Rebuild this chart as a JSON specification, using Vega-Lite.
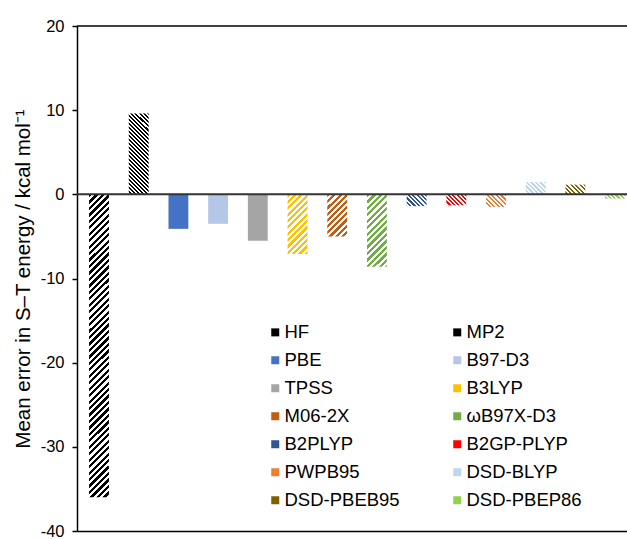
{
"$schema":"https://vega.github.io/schema/vega-lite/v6.json",
"width":550,"height":505,
"autosize":{"type":"none"},
"padding":{"left":77,"top":26,"right":0,"bottom":8},
"background":"white",
"config":{"view":{"stroke":null}},
"data":{"values":[
{"method":"HF","error":-36.0},
{"method":"MP2","error":9.6},
{"method":"PBE","error":-4.1},
{"method":"B97-D3","error":-3.5},
{"method":"TPSS","error":-5.5},
{"method":"B3LYP","error":-7.1},
{"method":"M06-2X","error":-5.0},
{"method":"ωB97X-D3","error":-8.6},
{"method":"B2PLYP","error":-1.4},
{"method":"B2GP-PLYP","error":-1.3},
{"method":"PWPB95","error":-1.5},
{"method":"DSD-BLYP","error":1.45},
{"method":"DSD-PBEB95","error":1.15},
{"method":"DSD-PBEP86","error":-0.5}
]},
"layer":[
{
"encoding":{
"x":{"field":"method","type":"nominal","sort":null,"scale":{"domain":["HF","MP2","PBE","B97-D3","TPSS","B3LYP","M06-2X","ωB97X-D3","B2PLYP","B2GP-PLYP","PWPB95","DSD-BLYP","DSD-PBEB95","DSD-PBEP86"],"paddingInner":0.5,"paddingOuter":0.177,"align":0.86},"axis":{"labels":false,"ticks":false,"title":null,"grid":false,"domainColor":"#000","domainWidth":1.5}},
"y":{"field":"error","type":"quantitative","scale":{"domain":[-40,20],"nice":false},"axis":{"values":[-40,-30,-20,-10,0,10,20],"labelExpr":"'' + datum.value","grid":false,"title":"Mean error in S–T energy / kcal mol⁻¹","titleFont":"Liberation Sans","titleFontSize":20.5,"titleFontWeight":"normal","titleColor":"#000","titlePadding":7,"labelFont":"Liberation Sans","labelFontSize":16.5,"labelColor":"#000","labelPadding":8,"tickSize":5,"tickColor":"#000","tickWidth":1.5,"domainColor":"#000","domainWidth":1.5}}
},
"layer":[
{"transform":[{"filter":{"field":"method","oneOf":["PBE","B97-D3","TPSS"]}}],
"mark":{"type":"bar"},
"encoding":{"color":{"field":"method","type":"nominal","scale":{"domain":["HF","MP2","PBE","B97-D3","TPSS","B3LYP","M06-2X","ωB97X-D3","B2PLYP","B2GP-PLYP","PWPB95","DSD-BLYP","DSD-PBEB95","DSD-PBEP86"],"range":["#000000","#000000","#4472C4","#B4C7E7","#A5A5A5","#FFC000","#C55A11","#70AD47","#2F5597","#FF0000","#ED7D31","#BDD7EE","#7F6000","#92D050"]},
"legend":{"orient":"none","legendX":189,"legendY":297,"columns":2,"direction":"horizontal","title":null,"symbolType":"square","symbolSize":64,"symbolStrokeWidth":0,"labelFont":"Liberation Sans","labelFontSize":18.5,"labelColor":"#000","labelOffset":0,"rowPadding":9,"columnPadding":48,"padding":0,"labelLimit":300}}}},
{"transform":[{"filter":{"field":"method","equal":"HF"}}],
"mark":{"type":"bar","fill":{"gradient":"linear","x1":0,"y1":0,"x2":0.06925,"y2":1.0608,"stops":[
{"offset":0,"color":"#000"},
{"offset":0.01,"color":"#000"},{"offset":0.01,"color":"#fff"},{"offset":0.02,"color":"#fff"},{"offset":0.02,"color":"#000"},
{"offset":0.03,"color":"#000"},{"offset":0.03,"color":"#fff"},{"offset":0.04,"color":"#fff"},{"offset":0.04,"color":"#000"},
{"offset":0.05,"color":"#000"},{"offset":0.05,"color":"#fff"},{"offset":0.06,"color":"#fff"},{"offset":0.06,"color":"#000"},
{"offset":0.07,"color":"#000"},{"offset":0.07,"color":"#fff"},{"offset":0.08,"color":"#fff"},{"offset":0.08,"color":"#000"},
{"offset":0.09,"color":"#000"},{"offset":0.09,"color":"#fff"},{"offset":0.10,"color":"#fff"},{"offset":0.10,"color":"#000"},
{"offset":0.11,"color":"#000"},{"offset":0.11,"color":"#fff"},{"offset":0.12,"color":"#fff"},{"offset":0.12,"color":"#000"},
{"offset":0.13,"color":"#000"},{"offset":0.13,"color":"#fff"},{"offset":0.14,"color":"#fff"},{"offset":0.14,"color":"#000"},
{"offset":0.15,"color":"#000"},{"offset":0.15,"color":"#fff"},{"offset":0.16,"color":"#fff"},{"offset":0.16,"color":"#000"},
{"offset":0.17,"color":"#000"},{"offset":0.17,"color":"#fff"},{"offset":0.18,"color":"#fff"},{"offset":0.18,"color":"#000"},
{"offset":0.19,"color":"#000"},{"offset":0.19,"color":"#fff"},{"offset":0.20,"color":"#fff"},{"offset":0.20,"color":"#000"},
{"offset":0.21,"color":"#000"},{"offset":0.21,"color":"#fff"},{"offset":0.22,"color":"#fff"},{"offset":0.22,"color":"#000"},
{"offset":0.23,"color":"#000"},{"offset":0.23,"color":"#fff"},{"offset":0.24,"color":"#fff"},{"offset":0.24,"color":"#000"},
{"offset":0.25,"color":"#000"},{"offset":0.25,"color":"#fff"},{"offset":0.26,"color":"#fff"},{"offset":0.26,"color":"#000"},
{"offset":0.27,"color":"#000"},{"offset":0.27,"color":"#fff"},{"offset":0.28,"color":"#fff"},{"offset":0.28,"color":"#000"},
{"offset":0.29,"color":"#000"},{"offset":0.29,"color":"#fff"},{"offset":0.30,"color":"#fff"},{"offset":0.30,"color":"#000"},
{"offset":0.31,"color":"#000"},{"offset":0.31,"color":"#fff"},{"offset":0.32,"color":"#fff"},{"offset":0.32,"color":"#000"},
{"offset":0.33,"color":"#000"},{"offset":0.33,"color":"#fff"},{"offset":0.34,"color":"#fff"},{"offset":0.34,"color":"#000"},
{"offset":0.35,"color":"#000"},{"offset":0.35,"color":"#fff"},{"offset":0.36,"color":"#fff"},{"offset":0.36,"color":"#000"},
{"offset":0.37,"color":"#000"},{"offset":0.37,"color":"#fff"},{"offset":0.38,"color":"#fff"},{"offset":0.38,"color":"#000"},
{"offset":0.39,"color":"#000"},{"offset":0.39,"color":"#fff"},{"offset":0.40,"color":"#fff"},{"offset":0.40,"color":"#000"},
{"offset":0.41,"color":"#000"},{"offset":0.41,"color":"#fff"},{"offset":0.42,"color":"#fff"},{"offset":0.42,"color":"#000"},
{"offset":0.43,"color":"#000"},{"offset":0.43,"color":"#fff"},{"offset":0.44,"color":"#fff"},{"offset":0.44,"color":"#000"},
{"offset":0.45,"color":"#000"},{"offset":0.45,"color":"#fff"},{"offset":0.46,"color":"#fff"},{"offset":0.46,"color":"#000"},
{"offset":0.47,"color":"#000"},{"offset":0.47,"color":"#fff"},{"offset":0.48,"color":"#fff"},{"offset":0.48,"color":"#000"},
{"offset":0.49,"color":"#000"},{"offset":0.49,"color":"#fff"},{"offset":0.50,"color":"#fff"},{"offset":0.50,"color":"#000"},
{"offset":0.51,"color":"#000"},{"offset":0.51,"color":"#fff"},{"offset":0.52,"color":"#fff"},{"offset":0.52,"color":"#000"},
{"offset":0.53,"color":"#000"},{"offset":0.53,"color":"#fff"},{"offset":0.54,"color":"#fff"},{"offset":0.54,"color":"#000"},
{"offset":0.55,"color":"#000"},{"offset":0.55,"color":"#fff"},{"offset":0.56,"color":"#fff"},{"offset":0.56,"color":"#000"},
{"offset":0.57,"color":"#000"},{"offset":0.57,"color":"#fff"},{"offset":0.58,"color":"#fff"},{"offset":0.58,"color":"#000"},
{"offset":0.59,"color":"#000"},{"offset":0.59,"color":"#fff"},{"offset":0.60,"color":"#fff"},{"offset":0.60,"color":"#000"},
{"offset":0.61,"color":"#000"},{"offset":0.61,"color":"#fff"},{"offset":0.62,"color":"#fff"},{"offset":0.62,"color":"#000"},
{"offset":0.63,"color":"#000"},{"offset":0.63,"color":"#fff"},{"offset":0.64,"color":"#fff"},{"offset":0.64,"color":"#000"},
{"offset":0.65,"color":"#000"},{"offset":0.65,"color":"#fff"},{"offset":0.66,"color":"#fff"},{"offset":0.66,"color":"#000"},
{"offset":0.67,"color":"#000"},{"offset":0.67,"color":"#fff"},{"offset":0.68,"color":"#fff"},{"offset":0.68,"color":"#000"},
{"offset":0.69,"color":"#000"},{"offset":0.69,"color":"#fff"},{"offset":0.70,"color":"#fff"},{"offset":0.70,"color":"#000"},
{"offset":0.71,"color":"#000"},{"offset":0.71,"color":"#fff"},{"offset":0.72,"color":"#fff"},{"offset":0.72,"color":"#000"},
{"offset":0.73,"color":"#000"},{"offset":0.73,"color":"#fff"},{"offset":0.74,"color":"#fff"},{"offset":0.74,"color":"#000"},
{"offset":0.75,"color":"#000"},{"offset":0.75,"color":"#fff"},{"offset":0.76,"color":"#fff"},{"offset":0.76,"color":"#000"},
{"offset":0.77,"color":"#000"},{"offset":0.77,"color":"#fff"},{"offset":0.78,"color":"#fff"},{"offset":0.78,"color":"#000"},
{"offset":0.79,"color":"#000"},{"offset":0.79,"color":"#fff"},{"offset":0.80,"color":"#fff"},{"offset":0.80,"color":"#000"},
{"offset":0.81,"color":"#000"},{"offset":0.81,"color":"#fff"},{"offset":0.82,"color":"#fff"},{"offset":0.82,"color":"#000"},
{"offset":0.83,"color":"#000"},{"offset":0.83,"color":"#fff"},{"offset":0.84,"color":"#fff"},{"offset":0.84,"color":"#000"},
{"offset":0.85,"color":"#000"},{"offset":0.85,"color":"#fff"},{"offset":0.86,"color":"#fff"},{"offset":0.86,"color":"#000"},
{"offset":0.87,"color":"#000"},{"offset":0.87,"color":"#fff"},{"offset":0.88,"color":"#fff"},{"offset":0.88,"color":"#000"},
{"offset":0.89,"color":"#000"},{"offset":0.89,"color":"#fff"},{"offset":0.90,"color":"#fff"},{"offset":0.90,"color":"#000"},
{"offset":0.91,"color":"#000"},{"offset":0.91,"color":"#fff"},{"offset":0.92,"color":"#fff"},{"offset":0.92,"color":"#000"},
{"offset":0.93,"color":"#000"},{"offset":0.93,"color":"#fff"},{"offset":0.94,"color":"#fff"},{"offset":0.94,"color":"#000"},
{"offset":0.95,"color":"#000"},{"offset":0.95,"color":"#fff"},{"offset":0.96,"color":"#fff"},{"offset":0.96,"color":"#000"},
{"offset":0.97,"color":"#000"},{"offset":0.97,"color":"#fff"},{"offset":0.98,"color":"#fff"},{"offset":0.98,"color":"#000"},
{"offset":0.99,"color":"#000"},{"offset":0.99,"color":"#fff"},{"offset":1,"color":"#fff"}
]}}},
{"transform":[{"filter":{"field":"method","equal":"MP2"}}],
"mark":{"type":"bar","fill":{"gradient":"linear","x1":1,"y1":0,"x2":0.7125,"y2":1.1745,"stops":[
{"offset":0,"color":"#000"},
{"offset":0.02,"color":"#000"},{"offset":0.02,"color":"#fff"},{"offset":0.04,"color":"#fff"},{"offset":0.04,"color":"#000"},
{"offset":0.06,"color":"#000"},{"offset":0.06,"color":"#fff"},{"offset":0.08,"color":"#fff"},{"offset":0.08,"color":"#000"},
{"offset":0.10,"color":"#000"},{"offset":0.10,"color":"#fff"},{"offset":0.12,"color":"#fff"},{"offset":0.12,"color":"#000"},
{"offset":0.14,"color":"#000"},{"offset":0.14,"color":"#fff"},{"offset":0.16,"color":"#fff"},{"offset":0.16,"color":"#000"},
{"offset":0.18,"color":"#000"},{"offset":0.18,"color":"#fff"},{"offset":0.20,"color":"#fff"},{"offset":0.20,"color":"#000"},
{"offset":0.22,"color":"#000"},{"offset":0.22,"color":"#fff"},{"offset":0.24,"color":"#fff"},{"offset":0.24,"color":"#000"},
{"offset":0.26,"color":"#000"},{"offset":0.26,"color":"#fff"},{"offset":0.28,"color":"#fff"},{"offset":0.28,"color":"#000"},
{"offset":0.30,"color":"#000"},{"offset":0.30,"color":"#fff"},{"offset":0.32,"color":"#fff"},{"offset":0.32,"color":"#000"},
{"offset":0.34,"color":"#000"},{"offset":0.34,"color":"#fff"},{"offset":0.36,"color":"#fff"},{"offset":0.36,"color":"#000"},
{"offset":0.38,"color":"#000"},{"offset":0.38,"color":"#fff"},{"offset":0.40,"color":"#fff"},{"offset":0.40,"color":"#000"},
{"offset":0.42,"color":"#000"},{"offset":0.42,"color":"#fff"},{"offset":0.44,"color":"#fff"},{"offset":0.44,"color":"#000"},
{"offset":0.46,"color":"#000"},{"offset":0.46,"color":"#fff"},{"offset":0.48,"color":"#fff"},{"offset":0.48,"color":"#000"},
{"offset":0.50,"color":"#000"},{"offset":0.50,"color":"#fff"},{"offset":0.52,"color":"#fff"},{"offset":0.52,"color":"#000"},
{"offset":0.54,"color":"#000"},{"offset":0.54,"color":"#fff"},{"offset":0.56,"color":"#fff"},{"offset":0.56,"color":"#000"},
{"offset":0.58,"color":"#000"},{"offset":0.58,"color":"#fff"},{"offset":0.60,"color":"#fff"},{"offset":0.60,"color":"#000"},
{"offset":0.62,"color":"#000"},{"offset":0.62,"color":"#fff"},{"offset":0.64,"color":"#fff"},{"offset":0.64,"color":"#000"},
{"offset":0.66,"color":"#000"},{"offset":0.66,"color":"#fff"},{"offset":0.68,"color":"#fff"},{"offset":0.68,"color":"#000"},
{"offset":0.70,"color":"#000"},{"offset":0.70,"color":"#fff"},{"offset":0.72,"color":"#fff"},{"offset":0.72,"color":"#000"},
{"offset":0.74,"color":"#000"},{"offset":0.74,"color":"#fff"},{"offset":0.76,"color":"#fff"},{"offset":0.76,"color":"#000"},
{"offset":0.78,"color":"#000"},{"offset":0.78,"color":"#fff"},{"offset":0.80,"color":"#fff"},{"offset":0.80,"color":"#000"},
{"offset":0.82,"color":"#000"},{"offset":0.82,"color":"#fff"},{"offset":0.84,"color":"#fff"},{"offset":0.84,"color":"#000"},
{"offset":0.86,"color":"#000"},{"offset":0.86,"color":"#fff"},{"offset":0.88,"color":"#fff"},{"offset":0.88,"color":"#000"},
{"offset":0.90,"color":"#000"},{"offset":0.90,"color":"#fff"},{"offset":0.92,"color":"#fff"},{"offset":0.92,"color":"#000"},
{"offset":0.94,"color":"#000"},{"offset":0.94,"color":"#fff"},{"offset":0.96,"color":"#fff"},{"offset":0.96,"color":"#000"},
{"offset":0.98,"color":"#000"},{"offset":0.98,"color":"#fff"},{"offset":1,"color":"#fff"}
]}}},
{"transform":[{"filter":{"field":"method","equal":"B3LYP"}}],
"mark":{"type":"bar","fill":{"gradient":"linear","x1":0,"y1":0,"x2":0.3971,"y2":1.1996,"stops":[
{"offset":0,"color":"#FFC000"},
{"offset":0.04,"color":"#FFC000"},{"offset":0.04,"color":"#fff"},{"offset":0.08,"color":"#fff"},{"offset":0.08,"color":"#FFC000"},
{"offset":0.12,"color":"#FFC000"},{"offset":0.12,"color":"#fff"},{"offset":0.16,"color":"#fff"},{"offset":0.16,"color":"#FFC000"},
{"offset":0.20,"color":"#FFC000"},{"offset":0.20,"color":"#fff"},{"offset":0.24,"color":"#fff"},{"offset":0.24,"color":"#FFC000"},
{"offset":0.28,"color":"#FFC000"},{"offset":0.28,"color":"#fff"},{"offset":0.32,"color":"#fff"},{"offset":0.32,"color":"#FFC000"},
{"offset":0.36,"color":"#FFC000"},{"offset":0.36,"color":"#fff"},{"offset":0.40,"color":"#fff"},{"offset":0.40,"color":"#FFC000"},
{"offset":0.44,"color":"#FFC000"},{"offset":0.44,"color":"#fff"},{"offset":0.48,"color":"#fff"},{"offset":0.48,"color":"#FFC000"},
{"offset":0.52,"color":"#FFC000"},{"offset":0.52,"color":"#fff"},{"offset":0.56,"color":"#fff"},{"offset":0.56,"color":"#FFC000"},
{"offset":0.60,"color":"#FFC000"},{"offset":0.60,"color":"#fff"},{"offset":0.64,"color":"#fff"},{"offset":0.64,"color":"#FFC000"},
{"offset":0.68,"color":"#FFC000"},{"offset":0.68,"color":"#fff"},{"offset":0.72,"color":"#fff"},{"offset":0.72,"color":"#FFC000"},
{"offset":0.76,"color":"#FFC000"},{"offset":0.76,"color":"#fff"},{"offset":0.80,"color":"#fff"},{"offset":0.80,"color":"#FFC000"},
{"offset":0.84,"color":"#FFC000"},{"offset":0.84,"color":"#fff"},{"offset":0.88,"color":"#fff"},{"offset":0.88,"color":"#FFC000"},
{"offset":0.92,"color":"#FFC000"},{"offset":0.92,"color":"#fff"},{"offset":0.96,"color":"#fff"},{"offset":0.96,"color":"#FFC000"},
{"offset":1,"color":"#FFC000"}
]}}},
{"transform":[{"filter":{"field":"method","equal":"M06-2X"}}],
"mark":{"type":"bar","fill":{"gradient":"linear","x1":0,"y1":0,"x2":0.566,"y2":1.204,"stops":[
{"offset":0,"color":"#C55A11"},
{"offset":0.05,"color":"#C55A11"},{"offset":0.05,"color":"#fff"},{"offset":0.10,"color":"#fff"},{"offset":0.10,"color":"#C55A11"},
{"offset":0.15,"color":"#C55A11"},{"offset":0.15,"color":"#fff"},{"offset":0.20,"color":"#fff"},{"offset":0.20,"color":"#C55A11"},
{"offset":0.25,"color":"#C55A11"},{"offset":0.25,"color":"#fff"},{"offset":0.30,"color":"#fff"},{"offset":0.30,"color":"#C55A11"},
{"offset":0.35,"color":"#C55A11"},{"offset":0.35,"color":"#fff"},{"offset":0.40,"color":"#fff"},{"offset":0.40,"color":"#C55A11"},
{"offset":0.45,"color":"#C55A11"},{"offset":0.45,"color":"#fff"},{"offset":0.50,"color":"#fff"},{"offset":0.50,"color":"#C55A11"},
{"offset":0.55,"color":"#C55A11"},{"offset":0.55,"color":"#fff"},{"offset":0.60,"color":"#fff"},{"offset":0.60,"color":"#C55A11"},
{"offset":0.65,"color":"#C55A11"},{"offset":0.65,"color":"#fff"},{"offset":0.70,"color":"#fff"},{"offset":0.70,"color":"#C55A11"},
{"offset":0.75,"color":"#C55A11"},{"offset":0.75,"color":"#fff"},{"offset":0.80,"color":"#fff"},{"offset":0.80,"color":"#C55A11"},
{"offset":0.85,"color":"#C55A11"},{"offset":0.85,"color":"#fff"},{"offset":0.90,"color":"#fff"},{"offset":0.90,"color":"#C55A11"},
{"offset":0.95,"color":"#C55A11"},{"offset":0.95,"color":"#fff"},{"offset":1,"color":"#fff"}
]}}},
{"transform":[{"filter":{"field":"method","equal":"ωB97X-D3"}}],
"mark":{"type":"bar","fill":{"gradient":"linear","x1":0,"y1":0,"x2":0.3238,"y2":1.1848,"stops":[
{"offset":0,"color":"#70AD47"},
{"offset":0.035,"color":"#70AD47"},{"offset":0.035,"color":"#fff"},{"offset":0.07,"color":"#fff"},{"offset":0.07,"color":"#70AD47"},
{"offset":0.105,"color":"#70AD47"},{"offset":0.105,"color":"#fff"},{"offset":0.14,"color":"#fff"},{"offset":0.14,"color":"#70AD47"},
{"offset":0.175,"color":"#70AD47"},{"offset":0.175,"color":"#fff"},{"offset":0.21,"color":"#fff"},{"offset":0.21,"color":"#70AD47"},
{"offset":0.245,"color":"#70AD47"},{"offset":0.245,"color":"#fff"},{"offset":0.28,"color":"#fff"},{"offset":0.28,"color":"#70AD47"},
{"offset":0.315,"color":"#70AD47"},{"offset":0.315,"color":"#fff"},{"offset":0.35,"color":"#fff"},{"offset":0.35,"color":"#70AD47"},
{"offset":0.385,"color":"#70AD47"},{"offset":0.385,"color":"#fff"},{"offset":0.42,"color":"#fff"},{"offset":0.42,"color":"#70AD47"},
{"offset":0.455,"color":"#70AD47"},{"offset":0.455,"color":"#fff"},{"offset":0.49,"color":"#fff"},{"offset":0.49,"color":"#70AD47"},
{"offset":0.525,"color":"#70AD47"},{"offset":0.525,"color":"#fff"},{"offset":0.56,"color":"#fff"},{"offset":0.56,"color":"#70AD47"},
{"offset":0.595,"color":"#70AD47"},{"offset":0.595,"color":"#fff"},{"offset":0.63,"color":"#fff"},{"offset":0.63,"color":"#70AD47"},
{"offset":0.665,"color":"#70AD47"},{"offset":0.665,"color":"#fff"},{"offset":0.70,"color":"#fff"},{"offset":0.70,"color":"#70AD47"},
{"offset":0.735,"color":"#70AD47"},{"offset":0.735,"color":"#fff"},{"offset":0.77,"color":"#fff"},{"offset":0.77,"color":"#70AD47"},
{"offset":0.805,"color":"#70AD47"},{"offset":0.805,"color":"#fff"},{"offset":0.84,"color":"#fff"},{"offset":0.84,"color":"#70AD47"},
{"offset":0.875,"color":"#70AD47"},{"offset":0.875,"color":"#fff"},{"offset":0.91,"color":"#fff"},{"offset":0.91,"color":"#70AD47"},
{"offset":0.945,"color":"#70AD47"},{"offset":0.945,"color":"#fff"},{"offset":0.98,"color":"#fff"},{"offset":0.98,"color":"#70AD47"},
{"offset":1,"color":"#70AD47"}
]}}},
{"transform":[{"filter":{"field":"method","equal":"B2PLYP"}}],
"mark":{"type":"bar","fill":{"gradient":"linear","x1":1,"y1":0,"x2":-0.1779,"y2":0.7017,"stops":[
{"offset":0,"color":"#2F5597"},
{"offset":0.07,"color":"#2F5597"},{"offset":0.07,"color":"#fff"},{"offset":0.14,"color":"#fff"},{"offset":0.14,"color":"#2F5597"},
{"offset":0.21,"color":"#2F5597"},{"offset":0.21,"color":"#fff"},{"offset":0.28,"color":"#fff"},{"offset":0.28,"color":"#2F5597"},
{"offset":0.35,"color":"#2F5597"},{"offset":0.35,"color":"#fff"},{"offset":0.42,"color":"#fff"},{"offset":0.42,"color":"#2F5597"},
{"offset":0.49,"color":"#2F5597"},{"offset":0.49,"color":"#fff"},{"offset":0.56,"color":"#fff"},{"offset":0.56,"color":"#2F5597"},
{"offset":0.63,"color":"#2F5597"},{"offset":0.63,"color":"#fff"},{"offset":0.70,"color":"#fff"},{"offset":0.70,"color":"#2F5597"},
{"offset":0.77,"color":"#2F5597"},{"offset":0.77,"color":"#fff"},{"offset":0.84,"color":"#fff"},{"offset":0.84,"color":"#2F5597"},
{"offset":0.91,"color":"#2F5597"},{"offset":0.91,"color":"#fff"},{"offset":0.98,"color":"#fff"},{"offset":0.98,"color":"#2F5597"},
{"offset":1,"color":"#2F5597"}
]}}},
{"transform":[{"filter":{"field":"method","equal":"B2GP-PLYP"}}],
"mark":{"type":"bar","fill":{"gradient":"linear","x1":1,"y1":0,"x2":-0.1892,"y2":0.6578,"stops":[
{"offset":0,"color":"#FF0000"},
{"offset":0.07,"color":"#FF0000"},{"offset":0.07,"color":"#fff"},{"offset":0.14,"color":"#fff"},{"offset":0.14,"color":"#FF0000"},
{"offset":0.21,"color":"#FF0000"},{"offset":0.21,"color":"#fff"},{"offset":0.28,"color":"#fff"},{"offset":0.28,"color":"#FF0000"},
{"offset":0.35,"color":"#FF0000"},{"offset":0.35,"color":"#fff"},{"offset":0.42,"color":"#fff"},{"offset":0.42,"color":"#FF0000"},
{"offset":0.49,"color":"#FF0000"},{"offset":0.49,"color":"#fff"},{"offset":0.56,"color":"#fff"},{"offset":0.56,"color":"#FF0000"},
{"offset":0.63,"color":"#FF0000"},{"offset":0.63,"color":"#fff"},{"offset":0.70,"color":"#fff"},{"offset":0.70,"color":"#FF0000"},
{"offset":0.77,"color":"#FF0000"},{"offset":0.77,"color":"#fff"},{"offset":0.84,"color":"#fff"},{"offset":0.84,"color":"#FF0000"},
{"offset":0.91,"color":"#FF0000"},{"offset":0.91,"color":"#fff"},{"offset":0.98,"color":"#fff"},{"offset":0.98,"color":"#FF0000"},
{"offset":1,"color":"#FF0000"}
]}}},
{"transform":[{"filter":{"field":"method","equal":"PWPB95"}}],
"mark":{"type":"bar","fill":{"gradient":"linear","x1":1,"y1":0,"x2":-0.164,"y2":0.7429,"stops":[
{"offset":0,"color":"#ED7D31"},
{"offset":0.07,"color":"#ED7D31"},{"offset":0.07,"color":"#fff"},{"offset":0.14,"color":"#fff"},{"offset":0.14,"color":"#ED7D31"},
{"offset":0.21,"color":"#ED7D31"},{"offset":0.21,"color":"#fff"},{"offset":0.28,"color":"#fff"},{"offset":0.28,"color":"#ED7D31"},
{"offset":0.35,"color":"#ED7D31"},{"offset":0.35,"color":"#fff"},{"offset":0.42,"color":"#fff"},{"offset":0.42,"color":"#ED7D31"},
{"offset":0.49,"color":"#ED7D31"},{"offset":0.49,"color":"#fff"},{"offset":0.56,"color":"#fff"},{"offset":0.56,"color":"#ED7D31"},
{"offset":0.63,"color":"#ED7D31"},{"offset":0.63,"color":"#fff"},{"offset":0.70,"color":"#fff"},{"offset":0.70,"color":"#ED7D31"},
{"offset":0.77,"color":"#ED7D31"},{"offset":0.77,"color":"#fff"},{"offset":0.84,"color":"#fff"},{"offset":0.84,"color":"#ED7D31"},
{"offset":0.91,"color":"#ED7D31"},{"offset":0.91,"color":"#fff"},{"offset":0.98,"color":"#fff"},{"offset":0.98,"color":"#ED7D31"},
{"offset":1,"color":"#ED7D31"}
]}}},
{"transform":[{"filter":{"field":"method","equal":"DSD-BLYP"}}],
"mark":{"type":"bar","fill":{"gradient":"linear","x1":1,"y1":0,"x2":-0.1712,"y2":0.7224,"stops":[
{"offset":0,"color":"#BDD7EE"},
{"offset":0.07,"color":"#BDD7EE"},{"offset":0.07,"color":"#fff"},{"offset":0.14,"color":"#fff"},{"offset":0.14,"color":"#BDD7EE"},
{"offset":0.21,"color":"#BDD7EE"},{"offset":0.21,"color":"#fff"},{"offset":0.28,"color":"#fff"},{"offset":0.28,"color":"#BDD7EE"},
{"offset":0.35,"color":"#BDD7EE"},{"offset":0.35,"color":"#fff"},{"offset":0.42,"color":"#fff"},{"offset":0.42,"color":"#BDD7EE"},
{"offset":0.49,"color":"#BDD7EE"},{"offset":0.49,"color":"#fff"},{"offset":0.56,"color":"#fff"},{"offset":0.56,"color":"#BDD7EE"},
{"offset":0.63,"color":"#BDD7EE"},{"offset":0.63,"color":"#fff"},{"offset":0.70,"color":"#fff"},{"offset":0.70,"color":"#BDD7EE"},
{"offset":0.77,"color":"#BDD7EE"},{"offset":0.77,"color":"#fff"},{"offset":0.84,"color":"#fff"},{"offset":0.84,"color":"#BDD7EE"},
{"offset":0.91,"color":"#BDD7EE"},{"offset":0.91,"color":"#fff"},{"offset":0.98,"color":"#fff"},{"offset":0.98,"color":"#BDD7EE"},
{"offset":1,"color":"#BDD7EE"}
]}}},
{"transform":[{"filter":{"field":"method","equal":"DSD-PBEB95"}}],
"mark":{"type":"bar","fill":{"gradient":"linear","x1":1,"y1":0,"x2":-0.2018,"y2":0.5882,"stops":[
{"offset":0,"color":"#7F6000"},
{"offset":0.075,"color":"#7F6000"},{"offset":0.075,"color":"#fff"},{"offset":0.15,"color":"#fff"},{"offset":0.15,"color":"#7F6000"},
{"offset":0.225,"color":"#7F6000"},{"offset":0.225,"color":"#fff"},{"offset":0.30,"color":"#fff"},{"offset":0.30,"color":"#7F6000"},
{"offset":0.375,"color":"#7F6000"},{"offset":0.375,"color":"#fff"},{"offset":0.45,"color":"#fff"},{"offset":0.45,"color":"#7F6000"},
{"offset":0.525,"color":"#7F6000"},{"offset":0.525,"color":"#fff"},{"offset":0.60,"color":"#fff"},{"offset":0.60,"color":"#7F6000"},
{"offset":0.675,"color":"#7F6000"},{"offset":0.675,"color":"#fff"},{"offset":0.75,"color":"#fff"},{"offset":0.75,"color":"#7F6000"},
{"offset":0.825,"color":"#7F6000"},{"offset":0.825,"color":"#fff"},{"offset":0.90,"color":"#fff"},{"offset":0.90,"color":"#7F6000"},
{"offset":0.975,"color":"#7F6000"},{"offset":0.975,"color":"#fff"},{"offset":1,"color":"#fff"}
]}}},
{"transform":[{"filter":{"field":"method","equal":"DSD-PBEP86"}}],
"mark":{"type":"bar","fill":{"gradient":"linear","x1":1,"y1":0,"x2":-0.1603,"y2":0.2468,"stops":[
{"offset":0,"color":"#92D050"},
{"offset":0.09,"color":"#92D050"},{"offset":0.09,"color":"#fff"},{"offset":0.18,"color":"#fff"},{"offset":0.18,"color":"#92D050"},
{"offset":0.27,"color":"#92D050"},{"offset":0.27,"color":"#fff"},{"offset":0.36,"color":"#fff"},{"offset":0.36,"color":"#92D050"},
{"offset":0.45,"color":"#92D050"},{"offset":0.45,"color":"#fff"},{"offset":0.54,"color":"#fff"},{"offset":0.54,"color":"#92D050"},
{"offset":0.63,"color":"#92D050"},{"offset":0.63,"color":"#fff"},{"offset":0.72,"color":"#fff"},{"offset":0.72,"color":"#92D050"},
{"offset":0.81,"color":"#92D050"},{"offset":0.81,"color":"#fff"},{"offset":0.90,"color":"#fff"},{"offset":0.90,"color":"#92D050"},
{"offset":0.99,"color":"#92D050"},{"offset":0.99,"color":"#fff"},{"offset":1,"color":"#fff"}
]}}}
]
},
{"data":{"values":[{}]},"mark":{"type":"rule","color":"#000","strokeWidth":1.5},"encoding":{"y":{"datum":20,"type":"quantitative"}}},
{"data":{"values":[{}]},"mark":{"type":"rule","color":"#333","strokeWidth":2},"encoding":{"y":{"datum":0,"type":"quantitative"}}}
]
}
